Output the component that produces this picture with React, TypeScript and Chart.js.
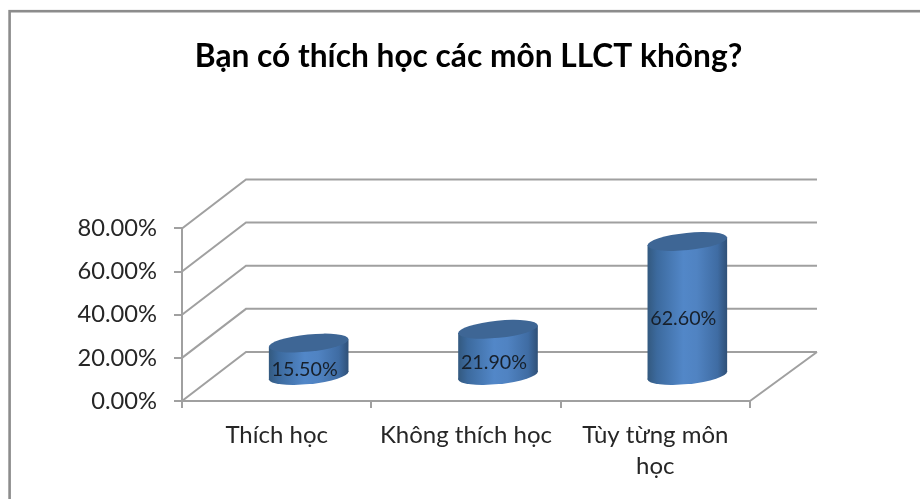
import React, { useEffect, useRef } from "react";
import { Chart, registerables, BarController, BarElement } from "chart.js";

const categories = ["Thích học", "Không thích học", ["Tùy từng môn", "học"]];
const percentValues = [15.5, 21.9, 62.6];
const yTicks = { min: 0, max: 80, step: 20 };
const chartTitle = "Bạn có thích học các môn LLCT không?";

const FONT = "Lato, Carlito, 'Open Sans', sans-serif";
const GRID = "#a0a0a0";
const DEPTH_X = 64;
const DEPTH_X_RIGHT = 67;
const DEPTH_Y = -49;
const CYL_X = 32;
const CYL_Y = -24.5;
const TILT = 0.1;
const MINOR = 8.6;

class CylinderElement extends BarElement {
  static id = "cylinder";
  draw(ctx: CanvasRenderingContext2D) {
    const { x, y, base, width } = (this as any).getProps(["x", "y", "base", "width"]);
    const a = width / 2;
    const cx = x + CYL_X;
    const top = y + CYL_Y;
    const bottom = base + CYL_Y;
    const cos = Math.cos(TILT);
    const sin = Math.sin(TILT);
    const ext = Math.sqrt(a * a * cos * cos + MINOR * MINOR * sin * sin);
    const off = ((a * a - MINOR * MINOR) * sin * cos) / ext;
    const g = ctx.createLinearGradient(cx - ext, 0, cx + ext, 0);
    g.addColorStop(0, "#33597f");
    g.addColorStop(0.12, "#3c6a9e");
    g.addColorStop(0.45, "#5287c8");
    g.addColorStop(0.62, "#5083c2");
    g.addColorStop(0.88, "#3f6ca3");
    g.addColorStop(1, "#2f5077");
    ctx.save();
    ctx.fillStyle = g;
    ctx.beginPath();
    ctx.ellipse(cx, bottom, a, MINOR, -TILT, 0, Math.PI * 2);
    ctx.fill();
    ctx.beginPath();
    ctx.moveTo(cx - ext, top + off);
    ctx.lineTo(cx - ext, bottom + off);
    ctx.lineTo(cx + ext, bottom - off);
    ctx.lineTo(cx + ext, top - off);
    ctx.closePath();
    ctx.fill();
    ctx.fillStyle = "#3e6695";
    ctx.beginPath();
    ctx.ellipse(cx, top, a, MINOR, -TILT, 0, Math.PI * 2);
    ctx.fill();
    ctx.restore();
  }
}

class CylinderController extends BarController {
  static id = "cylinder";
  static defaults = { ...BarController.defaults, dataElementType: "cylinder" };
  static overrides = BarController.overrides;
}

Chart.register(...registerables, CylinderElement as any, CylinderController as any);

const framePlugin = {
  id: "frame",
  beforeDraw(chart: any) {
    const { ctx, width, height } = chart;
    ctx.save();
    ctx.fillStyle = "#ffffff";
    ctx.fillRect(0, 0, width, height);
    ctx.strokeStyle = "#8c8c8c";
    ctx.lineWidth = 2.6;
    ctx.strokeRect(9.6, 11.2, width + 20, height + 20);
    ctx.restore();
  },
};

const wallsPlugin = {
  id: "walls",
  beforeDatasetsDraw(chart: any) {
    const { ctx, chartArea, scales } = chart;
    ctx.save();
    ctx.strokeStyle = GRID;
    ctx.lineWidth = 2;
    ctx.beginPath();
    scales.y.ticks.forEach((t: any) => {
      const py = scales.y.getPixelForValue(t.value);
      ctx.moveTo(chartArea.left, py);
      ctx.lineTo(chartArea.left + DEPTH_X, py + DEPTH_Y);
      ctx.lineTo(chartArea.right + DEPTH_X_RIGHT, py + DEPTH_Y);
    });
    ctx.moveTo(chartArea.right, chartArea.bottom);
    ctx.lineTo(chartArea.right + DEPTH_X_RIGHT, chartArea.bottom + DEPTH_Y);
    ctx.stroke();
    ctx.restore();
  },
};

const labelsPlugin = {
  id: "cylLabels",
  afterDatasetsDraw(chart: any) {
    const { ctx } = chart;
    const meta = chart.getDatasetMeta(0);
    ctx.save();
    ctx.font = `19.7px ${FONT}`;
    ctx.fillStyle = "#17202b";
    ctx.textAlign = "center";
    ctx.textBaseline = "middle";
    meta.data.forEach((el: any, i: number) => {
      const v = chart.data.datasets[0].data[i] as number;
      ctx.fillText(
        v.toFixed(2) + "%",
        el.x + CYL_X - 4,
        (el.y + el.base) / 2 + CYL_Y + 10
      );
    });
    ctx.restore();
  },
};

export default function App() {
  const ref = useRef<HTMLCanvasElement>(null);
  useEffect(() => {
    const chart = new Chart(ref.current as HTMLCanvasElement, {
      type: "cylinder" as any,
      data: {
        labels: categories as any,
        datasets: [{ label: "Series1", data: percentValues, barThickness: 80, backgroundColor: "#4f81bd" } as any],
      },
      options: {
        responsive: false,
        animation: false,
        layout: { padding: { left: 17, right: 0, top: 0, bottom: 0 } },
        plugins: {
          legend: { display: false },
          tooltip: { enabled: false },
          title: {
            display: true,
            text: chartTitle,
            color: "#000000",
            font: { family: FONT, size: 31.7, weight: "bold", lineHeight: 1.2 },
            padding: { top: 38, bottom: 152.4 },
          },
        },
        scales: {
          x: {
            offset: true,
            grid: { display: true, offset: true, drawOnChartArea: false, tickLength: 7, color: GRID, lineWidth: 2 },
            border: { display: true, color: GRID, width: 2 },
            ticks: {
              autoSkip: false,
              maxRotation: 0,
              color: "#262626",
              padding: 12,
              font: { family: FONT, size: 24, lineHeight: 1.29 },
            },
            afterFit(s: any) { s.height = 98; },
          },
          y: {
            min: yTicks.min,
            max: yTicks.max,
            grid: { display: true, drawOnChartArea: false, tickLength: 8, color: GRID, lineWidth: 2 },
            border: { display: true, color: GRID, width: 2 },
            ticks: {
              stepSize: yTicks.step,
              color: "#262626",
              padding: 17,
              font: { family: FONT, size: 23.7 },
              callback: (v: any) => Number(v).toFixed(2) + "%",
            },
            afterFit(s: any) { s.width = 165; },
          },
          yRight: {
            position: "right",
            display: true,
            grid: { display: false },
            border: { display: false },
            ticks: { display: false },
            afterFit(s: any) { s.width = 170; },
          },
        },
      } as any,
      plugins: [framePlugin, wallsPlugin, labelsPlugin],
    });
    return () => chart.destroy();
  }, []);
  return (
    <div style={{ position: "absolute", left: 0, top: 0, width: 920, height: 499, overflow: "hidden" }}>
      <canvas ref={ref} width={920} height={499} style={{ display: "block", width: 920, height: 499, filter: "blur(0.4px)" }} />
    </div>
  );
}
